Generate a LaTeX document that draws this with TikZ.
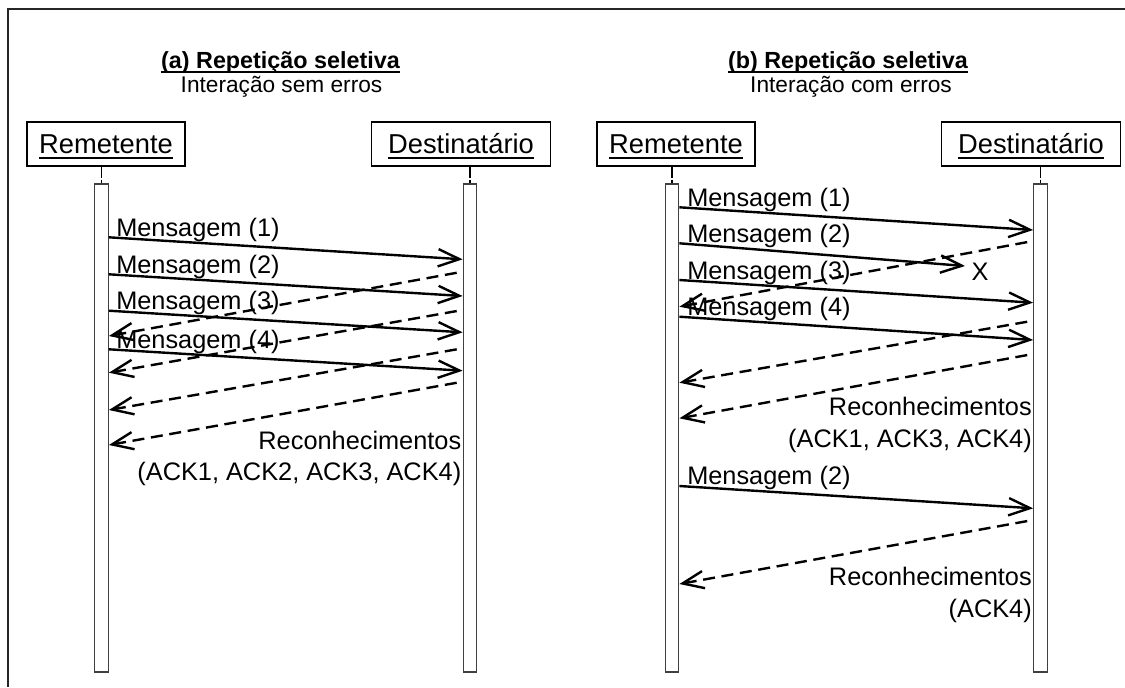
\documentclass[tikz,border=0pt]{standalone}
\usepackage{fontspec}
\setmainfont{Liberation Sans}
\usetikzlibrary{arrows.meta}

% underline with a chosen depth (#1) and thickness (#2)
\newsavebox{\ulsave}
\newcommand{\thickul}[3]{\sbox{\ulsave}{#3}\rlap{\rule[-#1]{\wd\ulsave}{#2}}\usebox{\ulsave}}

\begin{document}
\begin{tikzpicture}[x=0.75pt,y=-0.75pt,
  lifebox/.style={draw=black, line width=1.3pt, minimum height=33pt, inner sep=0pt,
    text height=14pt, text depth=0pt, font=\fontsize{20.5}{24}\selectfont},
  actbar/.style={draw=black!75, line width=1pt, fill=white, minimum width=10.1pt,
    minimum height=366pt, inner sep=0pt},
  lifeline/.style={line width=0.9pt, dash pattern=on 8pt off 1.6pt},
  msg/.style={line width=1.8pt, -{Straight Barb[length=16pt,width=13pt]}},
  ack/.style={msg, dash pattern=on 9pt off 5pt, shorten <=4.5pt},
  lbl/.style={font=\fontsize{19}{22}\selectfont, inner sep=0pt},
  ttl/.style={font=\fontsize{17.5}{21}\selectfont\bfseries, inner sep=0pt, anchor=base},
  sub/.style={font=\fontsize{17}{21}\selectfont, inner sep=0pt, anchor=base},
  frame/.style={line width=1.4pt, black!85}
]
\useasboundingbox (0,0) rectangle (1125,687);

% outer frame (open on the right and at the bottom)
\draw[frame] (8,687) -- (8,9) -- (1125,9);

% ---------------- panel (a): no errors ----------------
\node[ttl] (a-title) at (280.5,68.5) {\thickul{3pt}{1.5pt}{(a) Repetição seletiva}};
\node[sub] (a-sub) at (281.5,92) {Interação sem erros};

\node[lifebox, minimum width=118.5pt] (a-rem) at (106,144)
  {\thickul{4pt}{1.5pt}{Remetente}};
\node[lifebox, minimum width=134.25pt] (a-dst) at (461,144)
  {\thickul{4pt}{1.5pt}{Destinatário}};

\node[actbar] (a-rb) at (101.5,428) {};
\node[actbar] (a-db) at (470,428) {};

\draw[lifeline] (a-rb.north |- a-rem.south) -- (a-rb.north);
\draw[lifeline] (a-db.north |- a-dst.south) -- (a-db.north);

% messages
\draw[msg] (a-rb.east |- 0,237.3) -- (a-db.west |- 0,259.3);
\draw[msg] (a-rb.east |- 0,274.3) -- (a-db.west |- 0,296);
\draw[msg] (a-rb.east |- 0,310.7) -- (a-db.west |- 0,332.3);
\draw[msg] (a-rb.east |- 0,349.3) -- (a-db.west |- 0,370.7);
\node[lbl, anchor=base west] (a-m1) at (116,236) {Mensagem (1)};
\node[lbl, anchor=base west] (a-m2) at (116,273) {Mensagem (2)};
\node[lbl, anchor=base west] (a-m3) at (116,309.5) {Mensagem (3)};
\node[lbl, anchor=base west] (a-m4) at (116,348) {Mensagem (4)};

% acknowledgements
\draw[ack] (a-db.west |- 0,271.7) -- (a-rb.east |- 0,336);
\draw[ack] (a-db.west |- 0,310) -- (a-rb.east |- 0,372.7);
\draw[ack] (a-db.west |- 0,348.3) -- (a-rb.east |- 0,410);
\draw[ack] (a-db.west |- 0,381.7) -- (a-rb.east |- 0,445);
\node[lbl, anchor=base east] (a-k1) at (461.5,449) {Reconhecimentos};
\node[lbl, anchor=base east] (a-k2) at (461.5,480.5) {(ACK1, ACK2, ACK3, ACK4)};

% ---------------- panel (b): with errors ----------------
\node[ttl] (b-title) at (848,68.5) {\thickul{3pt}{1.5pt}{(b) Repetição seletiva}};
\node[sub] (b-sub) at (851,92) {Interação com erros};

\node[lifebox, minimum width=118.5pt] (b-rem) at (676,144)
  {\thickul{4pt}{1.5pt}{Remetente}};
\node[lifebox, minimum width=134.25pt] (b-dst) at (1031,144)
  {\thickul{4pt}{1.5pt}{Destinatário}};

\node[actbar] (b-rb) at (672,428) {};
\node[actbar] (b-db) at (1040.5,428) {};

\draw[lifeline] (b-rb.north |- b-rem.south) -- (b-rb.north);
\draw[lifeline] (b-db.north |- b-dst.south) -- (b-db.north);

% first round of messages, number 2 is lost
\draw[msg] (b-rb.east |- 0,207.3) -- (b-db.west |- 0,230);
\coordinate (b-lost) at (965,266);
\draw[msg] (b-rb.east |- 0,243.3) -- (b-lost);
\draw[msg] (b-rb.east |- 0,280) -- (b-db.west |- 0,302.7);
\draw[msg] (b-rb.east |- 0,316.7) -- (b-db.west |- 0,340);
\node[lbl, anchor=base west] (b-m1) at (687,206) {Mensagem (1)};
\node[lbl, anchor=base west] (b-m2) at (687,242) {Mensagem (2)};
\node[lbl, anchor=base west] (b-m3) at (687,279) {Mensagem (3)};
\node[lbl, anchor=base west] (b-m4) at (687,315.5) {Mensagem (4)};
\node[lbl] (b-x) at (980,271.5) {X};

% acknowledgements of the first round
\draw[ack] (b-db.west |- 0,241) -- (b-rb.east |- 0,306.7);
\draw[ack] (b-db.west |- 0,320.7) -- (b-rb.east |- 0,382.7);
\draw[ack] (b-db.west |- 0,354) -- (b-rb.east |- 0,418.3);
\node[lbl, anchor=base east] (b-k1) at (1032,415.7) {Reconhecimentos};
\node[lbl, anchor=base east] (b-k2) at (1032,447.3) {(ACK1, ACK3, ACK4)};

% retransmission of message 2
\draw[msg] (b-rb.east |- 0,486) -- (b-db.west |- 0,508.3);
\node[lbl, anchor=base west] (b-m5) at (687,484.5) {Mensagem (2)};
\draw[ack] (b-db.west |- 0,520) -- (b-rb.east |- 0,584);
\node[lbl, anchor=base east] (b-k3) at (1032,585.7) {Reconhecimentos};
\node[lbl, anchor=base east] (b-k4) at (1032,617.3) {(ACK4)};

\end{tikzpicture}
\end{document}
